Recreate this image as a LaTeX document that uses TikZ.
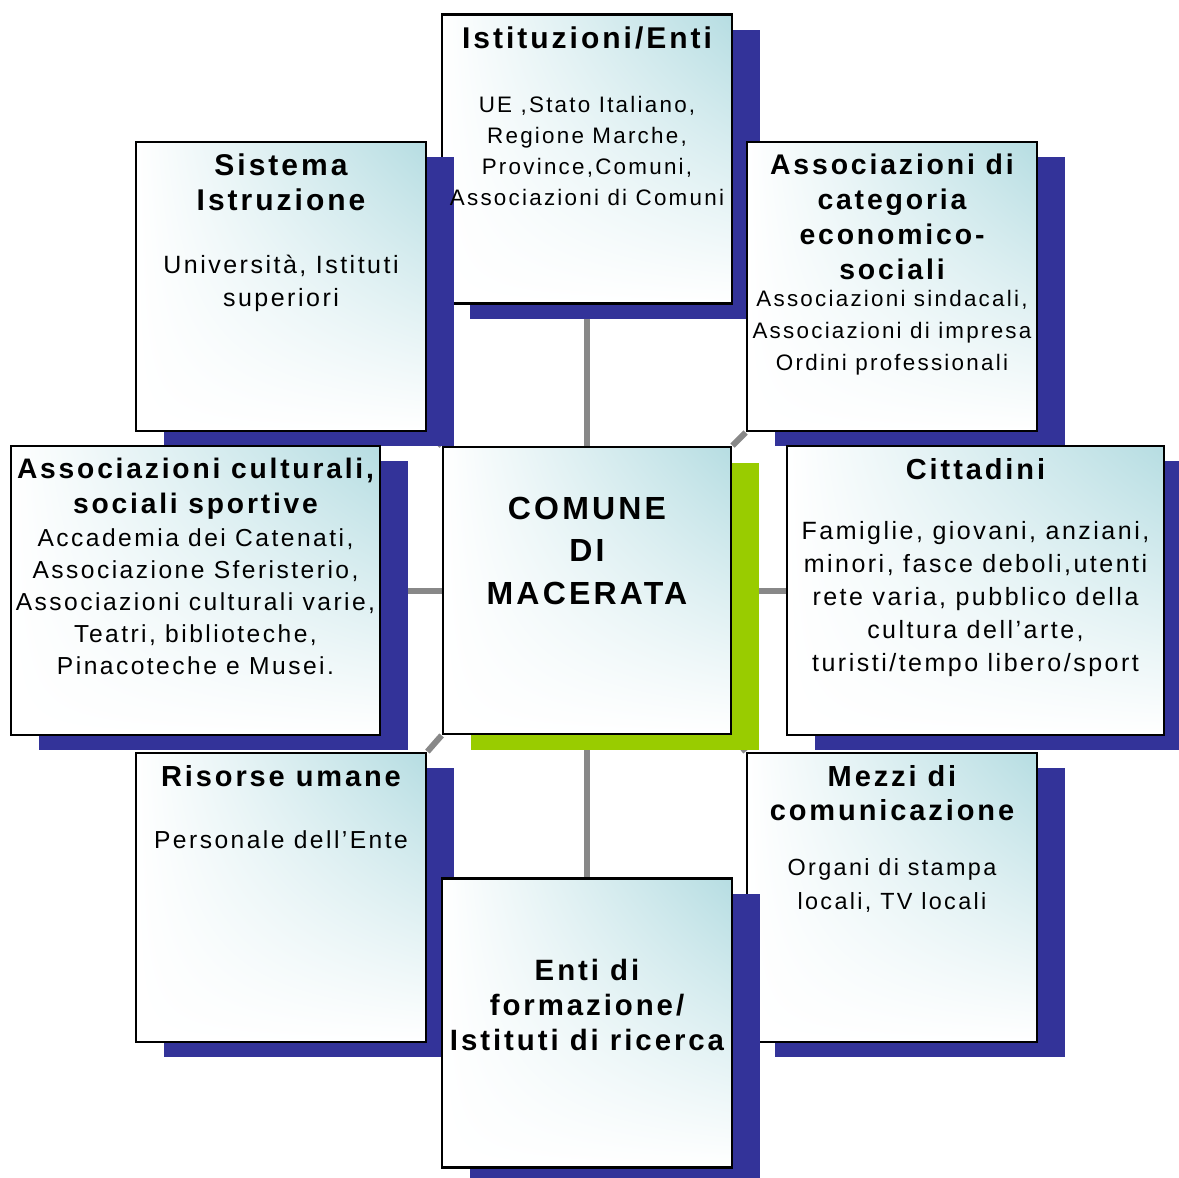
\documentclass[tikz,border=0pt]{standalone}
\usepackage{fontspec}
\setmainfont{Liberation Sans}[LetterSpace=10]
\usetikzlibrary{positioning,shadows,shadings,backgrounds}
\definecolor{boxteal}{RGB}{182,221,226}
\definecolor{shadowblue}{RGB}{51,51,153}
\definecolor{shadowgreen}{RGB}{153,204,0}
\definecolor{linkgray}{RGB}{136,136,136}

\begin{document}
\begin{tikzpicture}[x=0.5pt,y=-0.5pt,
    boxlook/.style={rectangle,draw=black,line width=1.4pt,inner sep=0pt,
      minimum width=145pt,minimum height=144.5pt,
      shade,upper right=boxteal,upper left=white,lower left=white,lower right=white}]

      \useasboundingbox (0,0) rectangle (1179,1178);

      \begin{scope}[every node/.style={boxlook,
          drop shadow={shadow xshift=14pt,shadow yshift=-7.5pt,fill=shadowblue,opacity=1}}]
        \node (ist)  at (587,159)    {};
        \node (sis)  at (281,286.5)  {};
        \node (cat)  at (892,286.5)  {};
        \node[minimum width=184.5pt] (cult) at (195.5,590.5) {};
        \node[minimum width=188.5pt] (citt) at (975.5,590.5) {};
        \node (ris)  at (281,897.5)  {};
        \node (mez)  at (892,897.5)  {};
        \node (enti) at (587,1023)   {};
      \end{scope}

      \begin{scope}[every node/.style={boxlook,minimum width=144pt,minimum height=143.5pt,
          drop shadow={shadow xshift=14pt,shadow yshift=-8pt,fill=shadowgreen,opacity=1}}]
        \node (com)  at (587,590.5)  {};
      \end{scope}

      % titles
      \begin{scope}[every node/.style={align=center,inner sep=0pt,
          font=\bfseries\fontsize{14.5}{17.5}\selectfont}]
        \node[below=6.5pt of ist.north,font=\bfseries\fontsize{15}{17.5}\selectfont]
          (ist-t) {Istituzioni/Enti};
        \node[below=6.5pt of sis.north,font=\bfseries\fontsize{15}{17.5}\selectfont]
          (sis-t) {Sistema\\Istruzione};
        \node[below=6.5pt of cat.north,font=\bfseries\fontsize{14.2}{17.5}\selectfont]
          (cat-t) {Associazioni di\\categoria\\economico-\\sociali};
        \node[below=6.5pt of cult.north,font=\bfseries\fontsize{14.1}{17.5}\selectfont]
          (cult-t) {Associazioni culturali,\\sociali sportive};
        \node[below=6.5pt of citt.north] (citt-t) {Cittadini};
        \node[below=6.5pt of ris.north]  (ris-t)  {Risorse umane};
        \node[below=6.5pt of mez.north,font=\bfseries\fontsize{14.5}{17}\selectfont]
          (mez-t) {Mezzi di\\comunicazione};
        \node[below=41pt of enti.north,font=\bfseries\fontsize{14.7}{17.5}\selectfont]
          (enti-t) {Enti di\\formazione/\\Istituti di ricerca};
        \node[below=25.5pt of com.north,font=\bfseries\fontsize{16}{21.25}\selectfont]
          (com-t) {COMUNE\\DI\\MACERATA};
      \end{scope}

      % contents
      \begin{scope}[every node/.style={align=center,inner sep=0pt,
          font=\fontsize{12.3}{16}\selectfont}]
        \node[below=41.5pt of ist.north,font=\fontsize{11.2}{15.5}\selectfont]
          (ist-b) {UE ,Stato Italiano,\\Regione Marche,\\Province,Comuni,\\Associazioni di Comuni};
        \node[below=57pt of sis.north,font=\fontsize{12.5}{16.5}\selectfont]
          (sis-b) {Università, Istituti\\superiori};
        \node[below=74.5pt of cat.north,font=\fontsize{11.2}{16}\selectfont]
          (cat-b) {Associazioni sindacali,\\Associazioni di impresa\\Ordini professionali};
        \node[below=42pt of cult.north] (cult-b) {Accademia dei Catenati,\\Associazione Sferisterio,\\Associazioni culturali varie,\\Teatri, biblioteche,\\Pinacoteche e Musei.};
        \node[below=38pt of citt.north,font=\fontsize{12.5}{16.5}\selectfont]
          (citt-b) {Famiglie, giovani, anziani,\\minori, fasce deboli,utenti\\rete varia, pubblico della\\cultura dell’arte,\\turisti/tempo libero/sport};
        \node[below=39.5pt of ris.north] (ris-b)  {Personale dell’Ente};
        \node[below=53.5pt of mez.north,font=\fontsize{11.7}{17}\selectfont]
          (mez-b) {Organi di stampa\\locali, TV locali};
      \end{scope}

      \begin{pgfonlayer}{background}
        \begin{scope}[every edge/.style={draw=linkgray,line width=3pt}]
          \path (ist)  edge (com);
          \path (com)  edge (enti);
          \path (cult) edge (com);
          \path (com)  edge (citt);
          \path (com.north west) edge (sis.south east);
          \path (com.north east) edge (cat.south west);
          \path (com.south west) edge (ris.north east);
          \path (com.south east) edge (mez.north west);
        \end{scope}
      \end{pgfonlayer}

    \end{tikzpicture}
\end{document}
